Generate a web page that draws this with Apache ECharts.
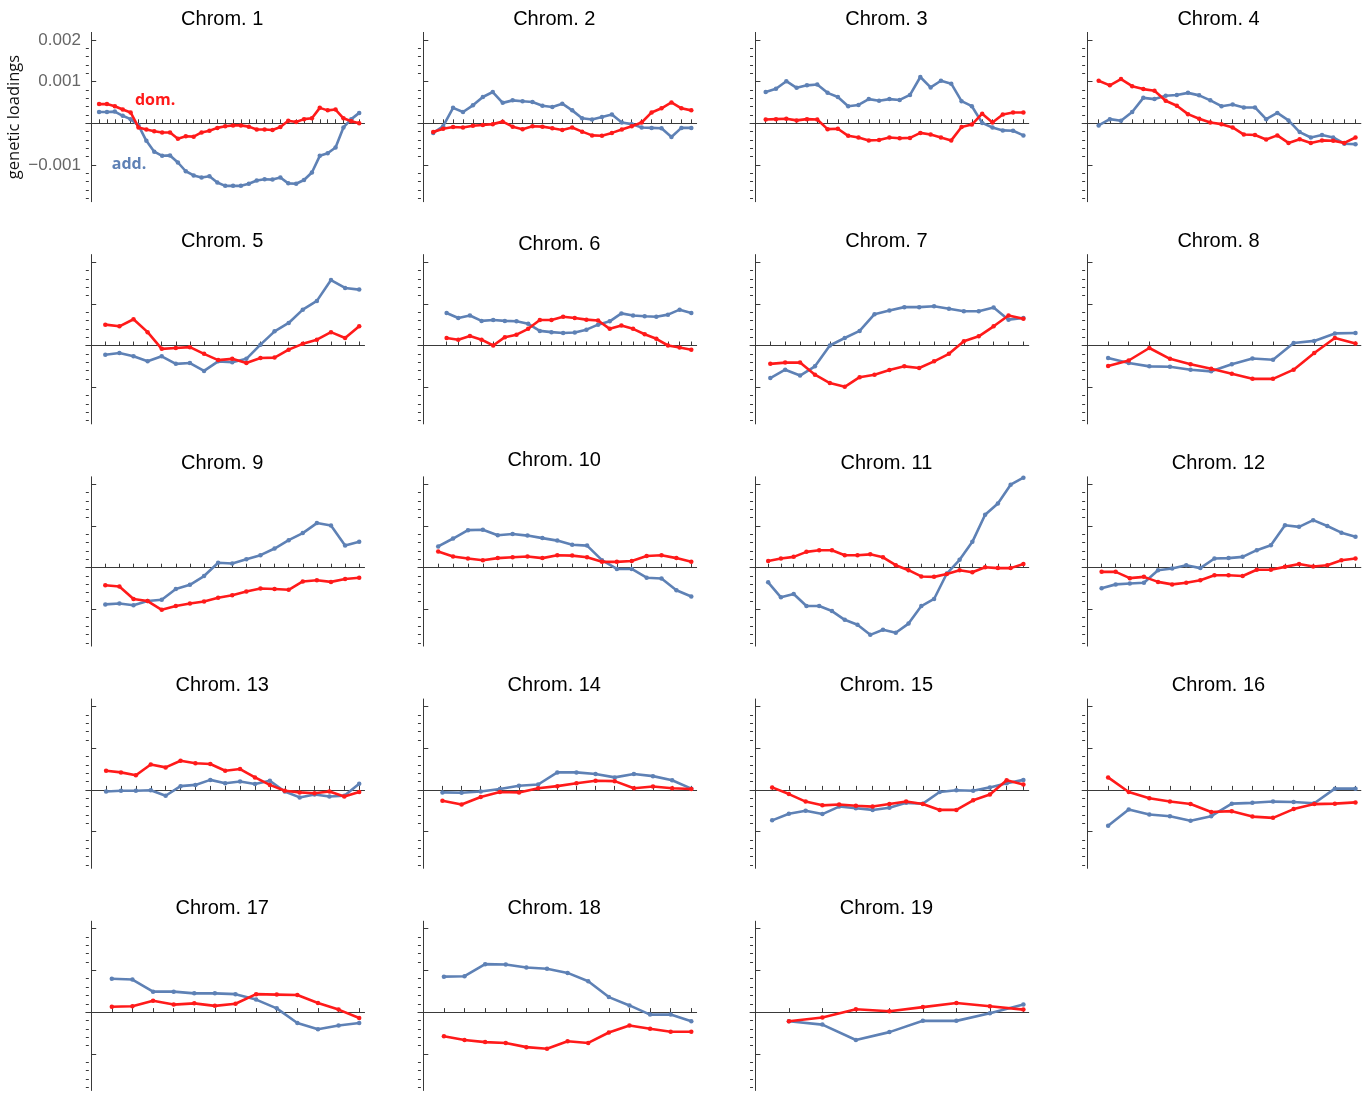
<!DOCTYPE html>
<html>
<head>
<meta charset="utf-8">
<script src="https://cdn.jsdelivr.net/npm/echarts@6/dist/echarts.min.js"></script>
<style>
  html, body { margin: 0; padding: 0; background: #fff; }
  #chart { width: 1371px; height: 1097px; }
</style>
</head>
<body>
<div id="chart"></div>
<script>
// Genetic loadings per chromosome window, in units of 0.001.
// add = additive loadings (blue), dom = dominance loadings (red).
const add1  = [0.27,0.27,0.28,0.18,0.1,-0.05,-0.42,-0.68,-0.78,-0.77,-0.94,-1.15,-1.25,-1.3,-1.27,-1.42,-1.5,-1.5,-1.5,-1.45,-1.37,-1.34,-1.35,-1.3,-1.44,-1.45,-1.36,-1.18,-0.78,-0.72,-0.58,-0.1,0.1,0.25];
const dom1  = [0.46,0.46,0.41,0.33,0.26,-0.1,-0.15,-0.19,-0.22,-0.22,-0.37,-0.31,-0.32,-0.22,-0.18,-0.11,-0.07,-0.05,-0.05,-0.08,-0.15,-0.15,-0.16,-0.09,0.06,0.03,0.1,0.12,0.37,0.31,0.33,0.12,0.05,0.0];
const add2  = [-0.23,-0.07,0.37,0.27,0.43,0.63,0.75,0.49,0.55,0.53,0.51,0.42,0.39,0.47,0.31,0.12,0.09,0.15,0.21,0.02,-0.02,-0.1,-0.11,-0.12,-0.33,-0.11,-0.11];
const dom2  = [-0.21,-0.13,-0.09,-0.1,-0.06,-0.04,-0.02,0.04,-0.08,-0.14,-0.07,-0.08,-0.12,-0.16,-0.1,-0.2,-0.29,-0.3,-0.23,-0.15,-0.07,0.02,0.26,0.36,0.5,0.36,0.31];
const add3  = [0.75,0.83,1.01,0.85,0.91,0.93,0.73,0.63,0.41,0.44,0.58,0.54,0.58,0.56,0.68,1.11,0.86,1.02,0.95,0.53,0.41,0.01,-0.1,-0.17,-0.18,-0.29];
const dom3  = [0.09,0.1,0.11,0.07,0.1,0.09,-0.14,-0.13,-0.3,-0.34,-0.41,-0.4,-0.34,-0.36,-0.35,-0.23,-0.27,-0.34,-0.41,-0.09,-0.03,0.23,0.02,0.21,0.26,0.26];
const add4  = [-0.05,0.1,0.06,0.27,0.61,0.58,0.66,0.68,0.73,0.67,0.55,0.41,0.45,0.38,0.38,0.1,0.25,0.07,-0.21,-0.34,-0.28,-0.34,-0.49,-0.5];
const dom4  = [1.02,0.91,1.06,0.89,0.82,0.78,0.54,0.42,0.22,0.11,0.02,-0.02,-0.1,-0.27,-0.28,-0.39,-0.29,-0.47,-0.38,-0.47,-0.41,-0.42,-0.47,-0.34];
const add5  = [-0.22,-0.18,-0.26,-0.38,-0.26,-0.44,-0.42,-0.61,-0.38,-0.4,-0.32,0.02,0.34,0.54,0.86,1.07,1.57,1.38,1.34];
const dom5  = [0.5,0.46,0.63,0.32,-0.08,-0.06,-0.04,-0.2,-0.35,-0.32,-0.42,-0.3,-0.29,-0.1,0.04,0.14,0.32,0.18,0.46];
const add6  = [0.78,0.66,0.72,0.59,0.61,0.59,0.58,0.52,0.35,0.32,0.3,0.31,0.38,0.5,0.58,0.77,0.72,0.7,0.69,0.74,0.86,0.78];
const dom6  = [0.18,0.14,0.23,0.14,0.0,0.2,0.26,0.4,0.61,0.61,0.69,0.66,0.62,0.6,0.4,0.48,0.4,0.27,0.16,0.0,-0.05,-0.1];
const add7  = [-0.78,-0.58,-0.72,-0.5,0.0,0.18,0.35,0.75,0.84,0.92,0.92,0.94,0.88,0.82,0.82,0.91,0.62,0.66];
const dom7  = [-0.44,-0.41,-0.41,-0.7,-0.9,-0.99,-0.76,-0.7,-0.59,-0.5,-0.54,-0.38,-0.2,0.1,0.22,0.46,0.72,0.64];
const add8  = [-0.3,-0.42,-0.5,-0.51,-0.58,-0.62,-0.45,-0.31,-0.34,0.06,0.11,0.29,0.3];
const dom8  = [-0.49,-0.36,-0.06,-0.32,-0.45,-0.56,-0.68,-0.8,-0.8,-0.58,-0.18,0.18,0.05];
const add9  = [-0.88,-0.86,-0.9,-0.8,-0.77,-0.51,-0.41,-0.2,0.12,0.1,0.2,0.3,0.46,0.66,0.83,1.07,1.01,0.53,0.62];
const dom9  = [-0.42,-0.45,-0.75,-0.8,-1.01,-0.92,-0.86,-0.81,-0.72,-0.66,-0.57,-0.5,-0.51,-0.53,-0.33,-0.3,-0.34,-0.27,-0.24];
const add10 = [0.51,0.7,0.9,0.91,0.78,0.81,0.77,0.71,0.65,0.55,0.53,0.18,-0.03,-0.03,-0.24,-0.26,-0.54,-0.69];
const dom10 = [0.39,0.27,0.22,0.18,0.23,0.25,0.27,0.23,0.3,0.29,0.25,0.14,0.14,0.16,0.28,0.3,0.23,0.14];
const add11 = [-0.35,-0.71,-0.63,-0.92,-0.92,-1.04,-1.25,-1.37,-1.61,-1.49,-1.56,-1.34,-0.92,-0.75,-0.14,0.19,0.62,1.27,1.54,1.99,2.16];
const dom11 = [0.16,0.22,0.26,0.38,0.42,0.42,0.3,0.3,0.32,0.25,0.06,-0.06,-0.21,-0.22,-0.15,-0.06,-0.11,0.01,-0.01,-0.01,0.09];
const add12 = [-0.49,-0.4,-0.38,-0.36,-0.06,-0.02,0.06,-0.01,0.22,0.23,0.26,0.42,0.54,1.02,0.98,1.14,1.0,0.84,0.74];
const dom12 = [-0.1,-0.1,-0.25,-0.22,-0.34,-0.4,-0.36,-0.3,-0.18,-0.18,-0.2,-0.05,-0.05,0.02,0.09,0.03,0.06,0.18,0.22];
const add13 = [-0.04,-0.02,-0.02,-0.01,-0.14,0.09,0.12,0.24,0.16,0.2,0.14,0.22,-0.04,-0.18,-0.11,-0.16,-0.14,0.15];
const dom13 = [0.46,0.42,0.35,0.61,0.54,0.7,0.64,0.62,0.46,0.5,0.3,0.12,-0.02,-0.06,-0.08,-0.04,-0.16,-0.05];
const add14 = [-0.06,-0.07,-0.04,0.02,0.1,0.13,0.42,0.42,0.38,0.3,0.38,0.33,0.23,0.03];
const dom14 = [-0.26,-0.35,-0.17,-0.05,-0.06,0.04,0.09,0.16,0.22,0.21,0.04,0.08,0.04,0.02];
const add15 = [-0.73,-0.57,-0.5,-0.58,-0.4,-0.44,-0.48,-0.43,-0.31,-0.33,-0.05,-0.01,-0.02,0.06,0.16,0.24];
const dom15 = [0.06,-0.1,-0.28,-0.37,-0.35,-0.38,-0.4,-0.34,-0.28,-0.34,-0.48,-0.48,-0.25,-0.11,0.23,0.13];
const add16 = [-0.86,-0.47,-0.59,-0.63,-0.74,-0.63,-0.33,-0.31,-0.28,-0.29,-0.32,0.03,0.03];
const dom16 = [0.3,-0.05,-0.2,-0.28,-0.34,-0.53,-0.51,-0.64,-0.67,-0.46,-0.34,-0.33,-0.3];
const add17 = [0.8,0.78,0.49,0.49,0.45,0.45,0.43,0.3,0.09,-0.26,-0.41,-0.32,-0.26];
const dom17 = [0.13,0.14,0.27,0.18,0.21,0.15,0.2,0.43,0.42,0.41,0.22,0.06,-0.14];
const add18 = [0.85,0.86,1.15,1.14,1.07,1.04,0.94,0.74,0.36,0.16,-0.06,-0.06,-0.22];
const dom18 = [-0.58,-0.67,-0.72,-0.74,-0.84,-0.88,-0.7,-0.74,-0.49,-0.32,-0.4,-0.47,-0.47];
const add19 = [-0.22,-0.3,-0.67,-0.48,-0.21,-0.21,-0.03,0.18];
const dom19 = [-0.22,-0.13,0.07,0.02,0.12,0.22,0.14,0.06];

// Window index of the first plotted window on each chromosome.
const firstWindow = [1,1,1,1,1,2,1,1,1,1,1,1,1,1,1,1,1,1,1];

const chromTitles = ['Chrom. 1','Chrom. 2','Chrom. 3','Chrom. 4','Chrom. 5','Chrom. 6','Chrom. 7',
  'Chrom. 8','Chrom. 9','Chrom. 10','Chrom. 11','Chrom. 12','Chrom. 13','Chrom. 14','Chrom. 15',
  'Chrom. 16','Chrom. 17','Chrom. 18','Chrom. 19'];

// Y tick positions (real loading units)
const yMajorTicks = [-0.001, 0.001, 0.002];
const yAxisName = 'genetic loadings';
const addName = 'add.';
const domName = 'dom.';

const addSeries = [add1,add2,add3,add4,add5,add6,add7,add8,add9,add10,add11,add12,add13,add14,add15,add16,add17,add18,add19];
const domSeries = [dom1,dom2,dom3,dom4,dom5,dom6,dom7,dom8,dom9,dom10,dom11,dom12,dom13,dom14,dom15,dom16,dom17,dom18,dom19];

const UNIT = 1e-3;
const Y_MIN = -0.00188, Y_MAX = 0.00218;

// ---- layout (pixels) ----
const AXIS_X0 = 91.2, COL_STEP = 332.1;
const ZERO_Y0 = 123.3, ROW_STEP = 222.2;
const PX_PER_MILLI = 41.7;       // vertical pixels per 0.001
const SPAN_PX = 268;             // pixels from x = 0 to the last window
const PAD = 0.02;                // horizontal padding fraction each side
const BLUE = '#5e81b5', RED = '#ff1a1a';
const AXIS_COLOR = '#3a3a3a';
// small per-panel nudges of the panel titles [dx, dy]
const titleNudge = { 5: [5, 3], 9: [0, -3] };

const yMinorTicks = [];
for (let k = -9; k <= 10; k++) {
  if (k % 5 !== 0) yMinorTicks.push(+(k * 0.0002).toFixed(4));
}

const grids = [], xAxes = [], yAxes = [], series = [], titles = [];

addSeries.forEach((addVals, k) => {
  const domVals = domSeries[k];
  const col = k % 4, row = Math.floor(k / 4);
  const axisX = AXIS_X0 + col * COL_STEP;
  const zeroY = ZERO_Y0 + row * ROW_STEP;
  const start = firstWindow[k];
  const last = start + addVals.length - 1;
  const positions = addVals.map((_, i) => start + i);

  grids.push({
    left: axisX - PAD * SPAN_PX,
    width: (1 + 2 * PAD) * SPAN_PX,
    top: zeroY - Y_MAX / UNIT * PX_PER_MILLI,
    height: (Y_MAX - Y_MIN) / UNIT * PX_PER_MILLI
  });

  xAxes.push({
    gridIndex: k, type: 'value', min: -PAD * last, max: (1 + PAD) * last,
    axisLine: { show: true, onZero: true, lineStyle: { color: AXIS_COLOR, width: 1 } },
    axisTick: { show: true, inside: true, length: 4, customValues: positions,
                lineStyle: { color: AXIS_COLOR, width: 1 } },
    axisLabel: { show: false },
    splitLine: { show: false }
  });

  const first = k === 0;
  yAxes.push({
    gridIndex: k, type: 'value', min: Y_MIN, max: Y_MAX,
    axisLine: { show: true, onZero: true, lineStyle: { color: AXIS_COLOR, width: 1 } },
    axisTick: { show: true, inside: true, length: 5, customValues: yMajorTicks,
                lineStyle: { color: AXIS_COLOR, width: 1 } },
    axisLabel: {
      show: first, customValues: yMajorTicks, margin: 5,
      color: '#666', fontSize: 17, fontFamily: 'Liberation Sans, Arial, sans-serif',
      formatter: v => (v < 0 ? '\u2212' : '') + Math.abs(v).toFixed(3)
    },
    splitLine: { show: false },
    name: first ? yAxisName : '',
    nameLocation: 'middle', nameGap: 63,
    nameTextStyle: { color: '#111', fontSize: 16.5, fontFamily: 'Open Sans, sans-serif' }
  });
  yAxes.push({
    gridIndex: k, type: 'value', min: Y_MIN, max: Y_MAX, position: 'left',
    axisLine: { show: false, onZero: true },
    axisTick: { show: true, inside: true, length: 3, customValues: yMinorTicks,
                lineStyle: { color: AXIS_COLOR, width: 1 } },
    axisLabel: { show: false },
    splitLine: { show: false }
  });

  const yIdx = 2 * k;
  const mkLabel = (text, color, coord) => ({
    symbol: 'circle', symbolSize: 1, silent: true,
    itemStyle: { color: 'rgba(0,0,0,0)' },
    label: { show: true, position: 'inside', formatter: text, color: color,
             fontSize: 16, fontWeight: 'bold', fontFamily: 'Open Sans, sans-serif' },
    data: [{ coord: coord }]
  });

  series.push({
    type: 'line', xAxisIndex: k, yAxisIndex: yIdx,
    data: addVals.map((v, i) => [positions[i], v * UNIT]),
    symbol: 'circle', symbolSize: 4.5, showSymbol: true,
    lineStyle: { color: BLUE, width: 2.6 }, itemStyle: { color: BLUE },
    markPoint: first ? mkLabel(addName, BLUE, [4.8, -0.98 * UNIT]) : undefined,
    z: 2
  });
  series.push({
    type: 'line', xAxisIndex: k, yAxisIndex: yIdx,
    data: domVals.map((v, i) => [positions[i], v * UNIT]),
    symbol: 'circle', symbolSize: 4.5, showSymbol: true,
    lineStyle: { color: RED, width: 2.6 }, itemStyle: { color: RED },
    markPoint: first ? mkLabel(domName, RED, [8.1, 0.56 * UNIT]) : undefined,
    z: 3
  });

  const nudge = titleNudge[k] || [0, 0];
  titles.push({
    text: chromTitles[k], left: axisX + 131 + nudge[0], top: zeroY - 114 + nudge[1],
    textAlign: 'center', padding: 0,
    textStyle: { color: '#000', fontSize: 20, fontWeight: 'normal',
                 fontFamily: 'Liberation Sans, Arial, sans-serif' }
  });
});

const chart = echarts.init(document.getElementById('chart'), null, { renderer: 'canvas' });
chart.setOption({
  animation: false,
  backgroundColor: '#fff',
  title: titles,
  grid: grids,
  xAxis: xAxes,
  yAxis: yAxes,
  series: series
});
</script>
</body>
</html>
